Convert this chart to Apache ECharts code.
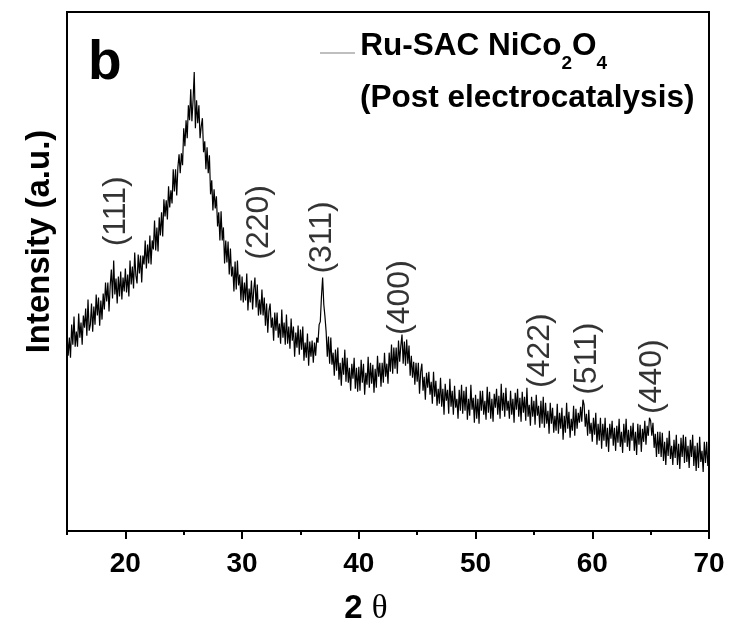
<!DOCTYPE html>
<html>
<head>
<meta charset="utf-8">
<script src="https://cdn.jsdelivr.net/npm/echarts@6/dist/echarts.min.js"></script>
<style>
html, body { margin: 0; padding: 0; background: #fff; }
#main { width: 730px; height: 625px; }
</style>
</head>
<body>
<div id="main"></div>
<script>
// XRD scan, 2theta from 15 to 70 in 0.1 deg steps
var scanStart = 15;
var scanStep = 0.1;
var intensity = [
    198,175,193,173,206,186,214,184,199,184, // 15
    217,193,208,186,215,203,222,195,231,200, // 16
    206,227,199,224,206,236,215,233,205,230, // 17
    211,237,221,248,229,248,219,245,261,232, // 18
    270,236,252,227,254,234,259,231,253,239, // 19
    262,238,256,234,270,246,264,242,278,255, // 20
    247,276,257,275,248,275,266,290,262,286, // 21
    267,295,266,290,281,310,280,303,279,313, // 22
    295,318,294,331,314,330,311,344,323,340, // 23
    327,361,339,361,335,363,376,357,377,365, // 24
    402,384,410,392,425,410,441,409,430,458, // 25
    402,430,407,425,392,404,412,378,389,361, // 26
    383,357,375,336,350,320,341,322,334,304, // 27
    318,290,319,290,303,267,290,268,289,256, // 28
    282,254,264,239,269,241,270,245,256,230, // 29
    254,228,248,230,257,220,242,228,250,221, // 30
    241,253,223,246,215,231,216,241,215,233, // 31
    205,227,198,220,227,203,213,190,218,200, // 32
    218,193,207,187,221,193,208,186,216,187, // 33
    204,182,212,190,204,174,198,183,205,176, // 34
    201,181,204,170,188,173,197,165,189,174, // 35
    190,168,188,175,193,188,206,209,234,253, // 36
    226,214,199,174,194,167,193,166,178,155, // 37
    181,160,183,151,168,145,173,156,181,149, // 38
    173,148,163,140,167,152,173,142,163,139, // 39
    164,140,171,148,167,136,158,146,174,143, // 40
    168,147,166,138,162,143,175,154,168,144, // 41
    168,148,178,154,167,147,178,159,186,157, // 42
    183,162,183,157,190,169,185,196,167,189, // 43
    165,191,167,185,155,175,153,169,146,168, // 44
    149,168,137,159,167,140,154,131,158,143, // 45
    159,136,149,127,159,134,150,125,142,127, // 46
    153,124,142,116,147,130,141,117,152,124, // 47
    140,116,145,123,132,112,141,120,146,117, // 48
    140,120,144,111,132,115,146,121,133,108, // 49
    136,112,132,107,140,120,140,116,130,111, // 50
    144,118,139,112,132,109,137,123,142,116, // 51
    135,112,147,120,138,114,143,120,130,112, // 52
    140,116,132,108,138,121,142,114,133,109, // 53
    139,118,134,110,143,114,126,105,134,114, // 54
    130,106,136,115,125,103,130,107,134,103, // 55
    128,107,120,97,128,107,123,98,115,100,   // 56
    127,97,118,102,123,91,115,98,128,102,    // 57
    119,93,112,100,125,95,122,102,118,108,   // 58
    124,109,131,126,104,117,95,121,97,108,   // 59
    89,113,96,118,86,107,90,113,82,107,      // 60
    90,113,84,103,79,107,92,110,85,103,      // 61
    80,105,88,112,84,99,78,107,88,112,       // 62
    84,101,80,105,90,108,80,99,76,107,       // 63
    86,106,79,102,89,110,86,105,95,113,      // 64
    110,95,108,83,97,74,99,77,99,74,         // 65
    98,70,89,66,93,75,100,72,85,66,          // 66
    91,73,96,66,87,62,93,74,96,68,           // 67
    94,69,85,63,91,74,96,65,85,60,           // 68
    88,63,94,69,80,59,89,68,89,65,           // 69
    79                                       // 70
];

// peak indexes (hkl) and where their labels sit
var peakNames = ['(111)', '(220)', '(311)', '(400)', '(422)', '(511)', '(440)'];
var peakTheta = [19.2, 31.45, 36.9, 43.5, 55.5, 59.6, 65.1];
var peakLabelY = [319, 308, 293, 233, 180, 172, 154];

var xMajorTicks = [20, 30, 40, 50, 60, 70];
var xMinorTicks = [15, 25, 35, 45, 55, 65];

var seriesName = 'Ru-SAC NiCo2O4';
var font = 'Liberation Sans';

var lineData = [];
for (var i = 0; i < intensity.length; i++) {
    lineData.push([+(scanStart + i * scanStep).toFixed(1), intensity[i]]);
}
var peakData = [];
for (var j = 0; j < peakNames.length; j++) {
    peakData.push([peakTheta[j], peakLabelY[j], peakNames[j]]);
}

var chart = echarts.init(document.getElementById('main'));

var option = {
    backgroundColor: '#fff',
    animation: false,
    title: {
        text: 'b',
        left: 88,
        top: 36,
        padding: 0,
        textStyle: { fontSize: 55, fontWeight: 'bold', fontFamily: font, color: '#000' }
    },
    legend: {
        data: [seriesName],
        left: 320,
        top: 30,
        padding: 0,
        icon: 'rect',
        itemWidth: 35,
        itemHeight: 1,
        itemStyle: { color: '#808080' },
        formatter: function () {
            // p is an empty strut that makes the row taller so the legend line sits lower
            return '{p| }{a|Ru-SAC NiCo}{s|2}{a|O}{s|4}';
        },
        textStyle: {
            color: '#000',
            rich: {
                p: { fontSize: 1, lineHeight: 46, verticalAlign: 'top' },
                a: { fontSize: 31.5, fontWeight: 'bold', fontFamily: font, color: '#000', lineHeight: 32, verticalAlign: 'top' },
                s: { fontSize: 19, fontWeight: 'bold', fontFamily: font, color: '#000', lineHeight: 12, padding: [24, 0, 0, 0], verticalAlign: 'top' }
            }
        }
    },
    graphic: [{
        type: 'text',
        left: 360,
        top: 82,
        style: { text: '(Post electrocatalysis)', font: 'bold 31.5px "Liberation Sans"', fill: '#000' }
    }],
    grid: {
        left: 67, right: 21, top: 12, bottom: 94,
        outerBoundsMode: 'none',
        show: true, borderColor: '#000', borderWidth: 2
    },
    xAxis: [{
        type: 'value',
        position: 'bottom',
        min: 15,
        max: 70,
        name: '{a|2 }{b|θ}',
        nameLocation: 'middle',
        nameGap: 60,
        nameTextStyle: {
            padding: [0, 44, 0, 0],
            rich: {
                a: { fontSize: 33, fontWeight: 'bold', fontFamily: font, color: '#000', lineHeight: 36 },
                b: { fontSize: 33, fontFamily: 'Liberation Serif', color: '#000', lineHeight: 36 }
            }
        },
        axisLine: { lineStyle: { color: '#000', width: 2 } },
        axisTick: { customValues: xMajorTicks, length: 8, lineStyle: { color: '#000', width: 2 } },
        axisLabel: { customValues: xMajorTicks, fontSize: 28, fontWeight: 'bold', fontFamily: font, color: '#000', margin: 19 },
        splitLine: { show: false }
    }, {
        type: 'value',
        position: 'bottom',
        min: 15,
        max: 70,
        axisLine: { show: false },
        axisTick: { customValues: xMinorTicks, length: 4, lineStyle: { color: '#000', width: 2 } },
        axisLabel: { show: false },
        splitLine: { show: false }
    }],
    yAxis: {
        type: 'value',
        min: 0,
        max: 518,
        name: 'Intensity (a.u.)',
        nameLocation: 'middle',
        nameRotate: 90,
        nameGap: 11,
        nameTextStyle: { fontSize: 33, fontWeight: 'bold', fontFamily: font, color: '#000', padding: [0, 0, 0, 60] },
        axisLine: { show: true, lineStyle: { color: '#000', width: 2 } },
        axisTick: { show: false },
        axisLabel: { show: false },
        splitLine: { show: false }
    },
    series: [{
        name: seriesName,
        type: 'line',
        data: lineData,
        symbol: 'none',
        showSymbol: false,
        itemStyle: { color: '#000' },
        lineStyle: { color: '#000', width: 1.2 },
        z: 3
    }, {
        type: 'scatter',
        data: peakData,
        symbolSize: 0,
        silent: true,
        label: {
            show: true,
            position: 'inside',
            rotate: 90,
            fontSize: 32,
            fontFamily: font,
            color: '#000',
            formatter: function (p) { return p.data[2]; }
        },
        z: 4
    }]
};

chart.setOption(option);
</script>
</body>
</html>
